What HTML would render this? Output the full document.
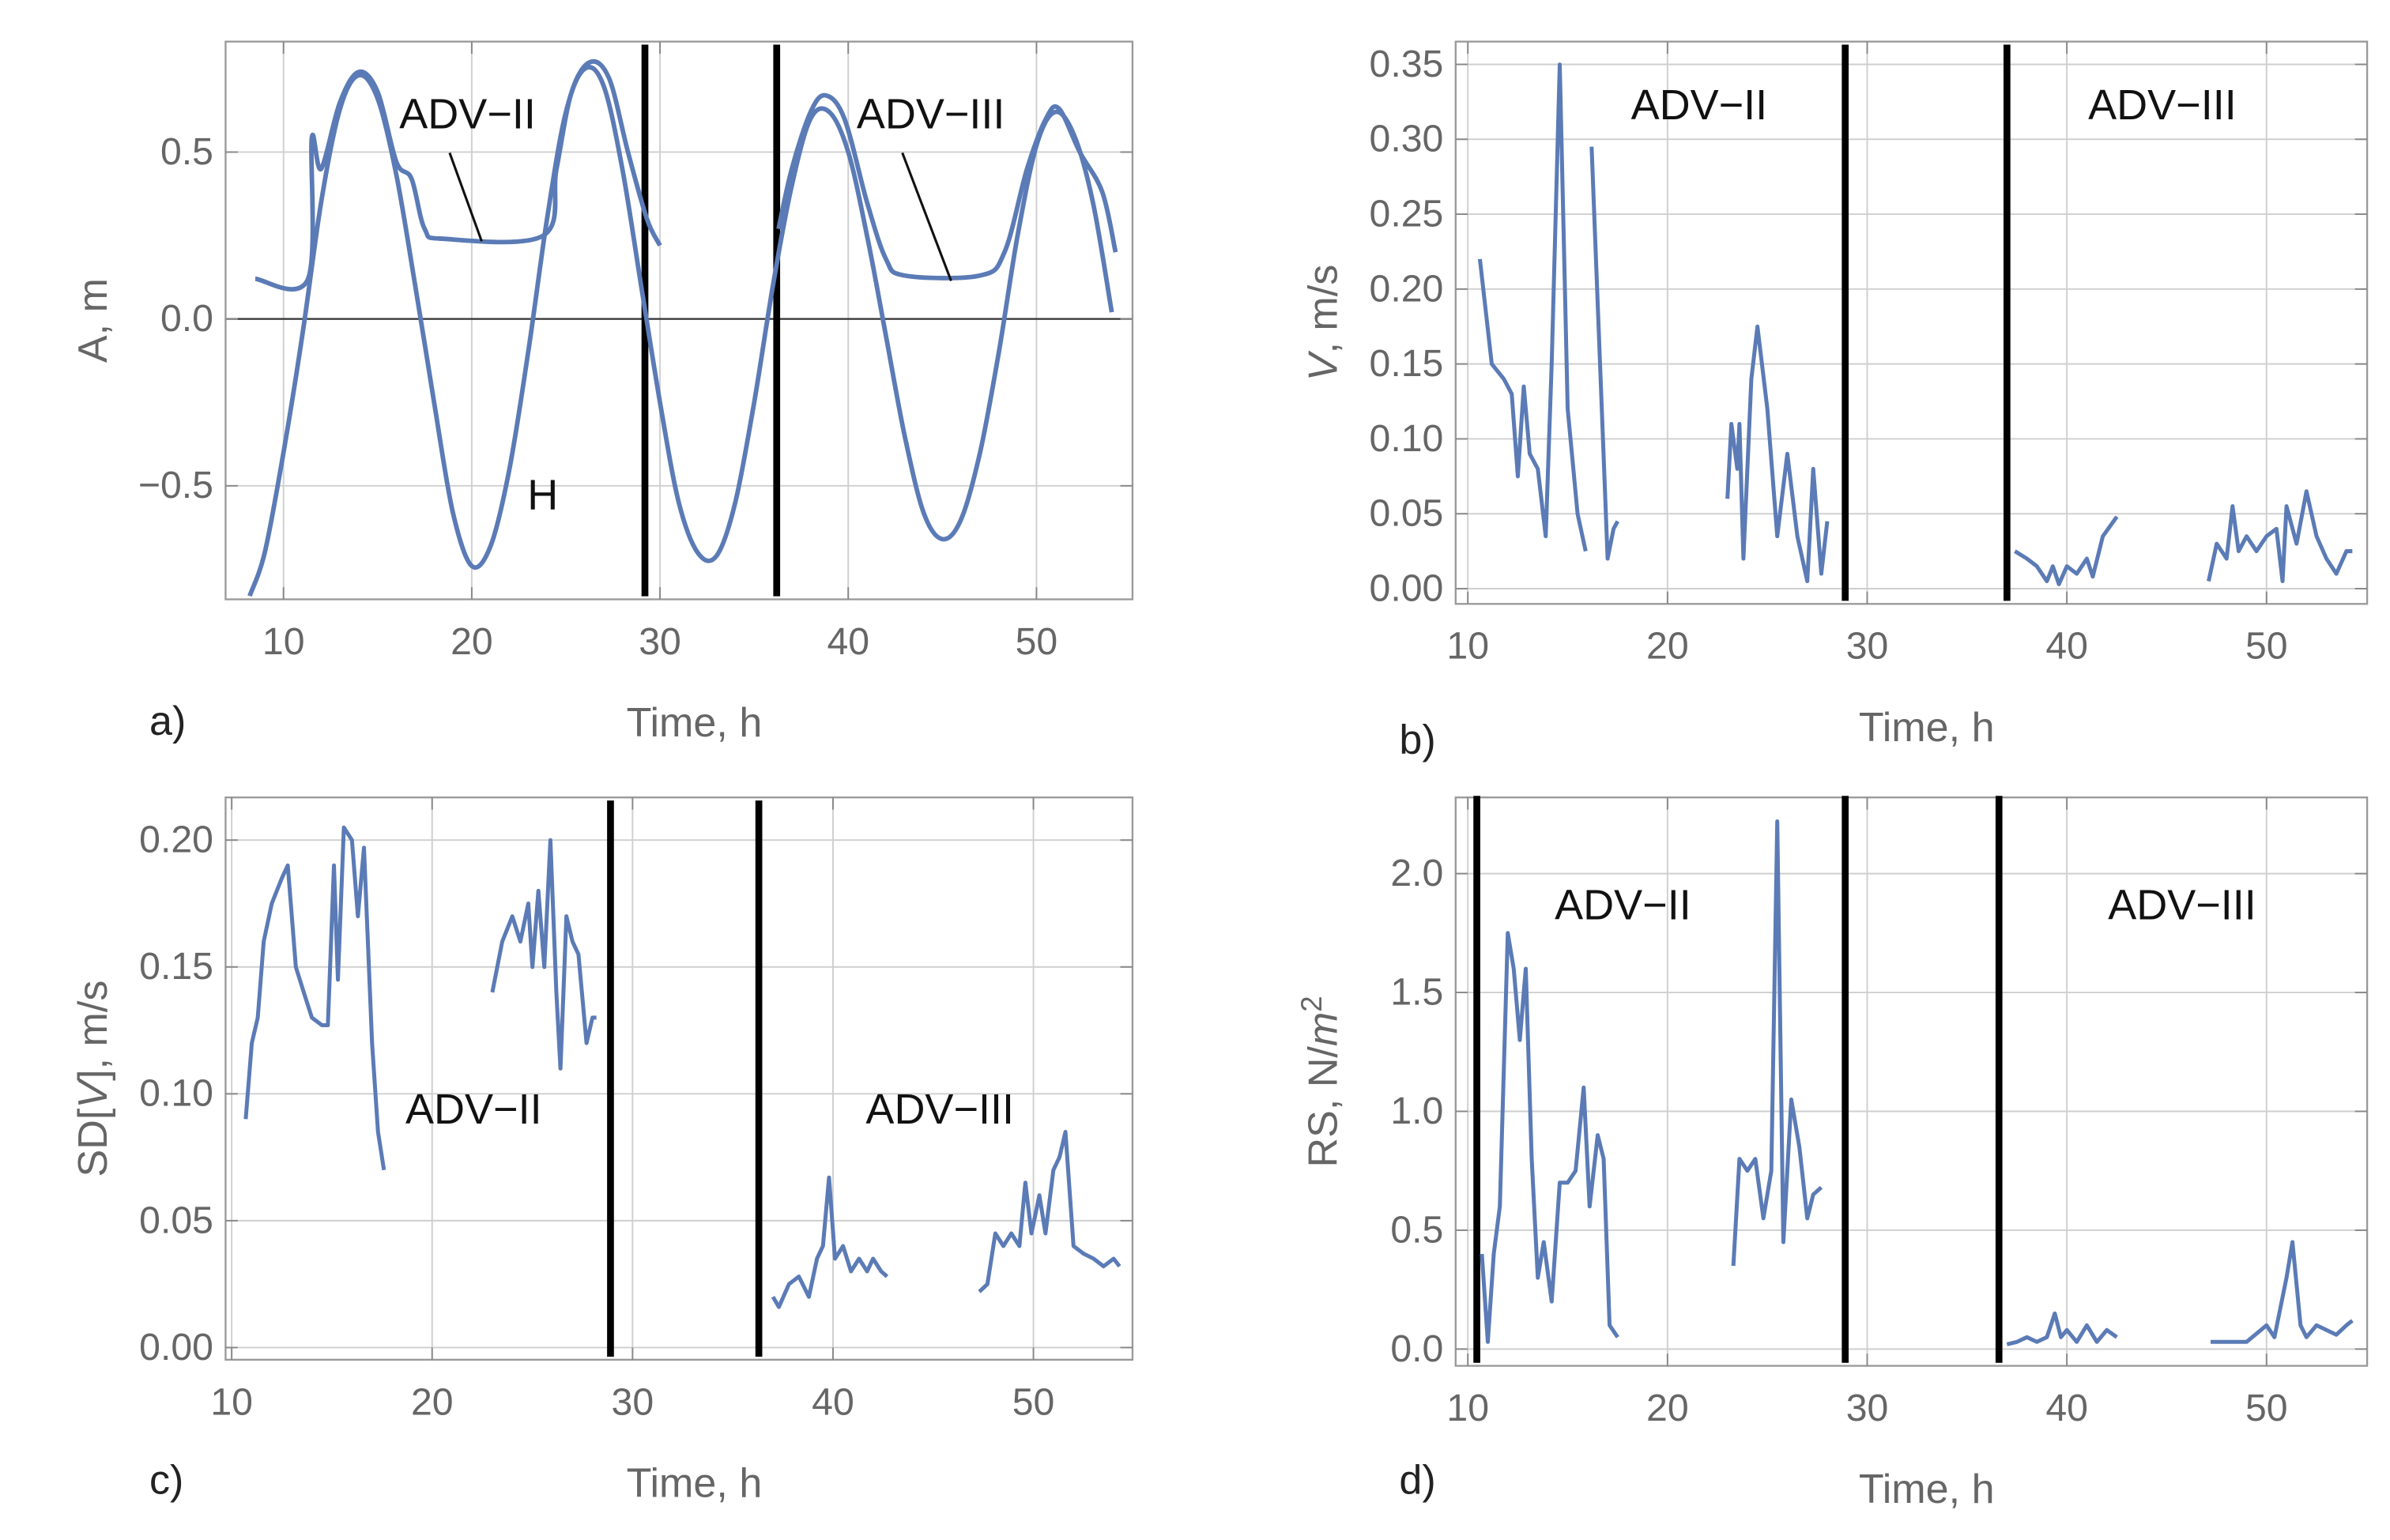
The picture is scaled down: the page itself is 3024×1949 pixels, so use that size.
<!DOCTYPE html>
<html><head><meta charset="utf-8">
<style>
html,body{margin:0;padding:0;background:#fff;}
svg{display:block;}
text{font-family:"Liberation Sans",sans-serif;}
</style></head>
<body>
<svg id="fig" width="3024" height="1949" viewBox="0 0 1568 1010" xmlns="http://www.w3.org/2000/svg"></svg>
<script>
// ---------- Panel a data ----------
const aHt=[8.2,9,10,11,12,13,14,15,16,17,18,19,20,21,22,23,24,25,26,27,28,29,30,31,32,33,34,35,36,37,38,39,40,41,42,43,44,45,46,47,48,49,50,51,52,53,54];
const aH=[-0.83,-0.7,-0.4,-0.05,0.35,0.63,0.73,0.66,0.43,0.1,-0.25,-0.58,-0.74,-0.68,-0.45,-0.1,0.3,0.62,0.75,0.7,0.45,0.1,-0.25,-0.55,-0.7,-0.71,-0.55,-0.25,0.1,0.4,0.6,0.62,0.5,0.25,-0.05,-0.35,-0.58,-0.66,-0.6,-0.4,-0.1,0.25,0.52,0.62,0.55,0.35,0.02];
const aA1t=[8.5,11.3,11.5,12,13,14,15,16,16.8,17.5,18.5,23.8,24.5,25.3,26.3,27.3,28.3,29.3,30];
const aA1=[0.12,0.12,0.54,0.45,0.65,0.74,0.68,0.47,0.42,0.27,0.24,0.25,0.45,0.68,0.77,0.72,0.5,0.3,0.22];
const aA2t=[36.3,37,38,38.8,39.8,41,42,43,47,48.3,49.5,50.5,51.2,52.3,53.5,54.2];
const aA2=[0.27,0.45,0.62,0.67,0.6,0.35,0.18,0.13,0.13,0.2,0.45,0.6,0.63,0.5,0.38,0.2];
// ---------- Panel b data ----------
const bT1=[10.6,11.2,11.8,12.2,12.5,12.8,13.1,13.5,13.9,14.2,14.6,15.0,15.5,15.9];
const bV1=[0.22,0.15,0.14,0.13,0.075,0.135,0.09,0.08,0.035,0.15,0.35,0.12,0.05,0.025];
const bT2=[16.2,17.0,17.3,17.5];
const bV2=[0.295,0.02,0.04,0.045];
const bT3=[23.0,23.2,23.5,23.6,23.8,24.2,24.5,25.0,25.5,26.0,26.5,27.0,27.3,27.7,28.0];
const bV3=[0.06,0.11,0.08,0.11,0.02,0.14,0.175,0.12,0.035,0.09,0.035,0.005,0.08,0.01,0.045];
const bT4=[37.4,38,38.5,39,39.3,39.6,40,40.5,41,41.3,41.8,42.5];
const bV4=[0.025,0.02,0.015,0.005,0.015,0.003,0.015,0.01,0.02,0.008,0.035,0.048];
const bT5=[47.1,47.5,48,48.3,48.6,49,49.5,50,50.5,50.8,51,51.5,52,52.5,53,53.5,54,54.3];
const bV5=[0.005,0.03,0.02,0.055,0.025,0.035,0.025,0.035,0.04,0.005,0.055,0.03,0.065,0.035,0.02,0.01,0.025,0.025];
// ---------- Panel c data ----------
const cT1=[10.7,11,11.3,11.6,12,12.5,12.8,13.2,13.6,14,14.5,14.8,15.1,15.3,15.6,16.0,16.3,16.6,17.0,17.3,17.6];
const cV1=[0.09,0.12,0.13,0.16,0.175,0.185,0.19,0.15,0.14,0.13,0.127,0.127,0.19,0.145,0.205,0.2,0.17,0.197,0.12,0.085,0.07];
const cT2=[23,23.5,24,24.4,24.8,25,25.3,25.6,25.9,26.2,26.4,26.7,27,27.3,27.7,28,28.2];
const cV2=[0.14,0.16,0.17,0.16,0.175,0.15,0.18,0.15,0.2,0.14,0.11,0.17,0.16,0.155,0.12,0.13,0.13];
const cT3=[37,37.3,37.8,38.3,38.8,39.2,39.5,39.8,40.1,40.5,40.9,41.3,41.7,42,42.4,42.7];
const cV3=[0.02,0.016,0.025,0.028,0.02,0.035,0.04,0.067,0.035,0.04,0.03,0.035,0.03,0.035,0.03,0.028];
const cT4=[47.3,47.7,48.1,48.5,48.9,49.3,49.6,49.9,50.3,50.6,51,51.3,51.6,52,52.5,53,53.5,54,54.3];
const cV4=[0.022,0.025,0.045,0.04,0.045,0.04,0.065,0.045,0.06,0.045,0.07,0.075,0.085,0.04,0.037,0.035,0.032,0.035,0.032];
// ---------- Panel d data ----------
const dT1=[10.7,11,11.3,11.6,12,12.3,12.6,12.9,13.2,13.5,13.8,14.2,14.6,15,15.4,15.8,16.1,16.5,16.8,17.1,17.5];
const dV1=[0.4,0.03,0.4,0.6,1.75,1.6,1.3,1.6,0.8,0.3,0.45,0.2,0.7,0.7,0.75,1.1,0.6,0.9,0.8,0.1,0.05];
const dT2=[23.3,23.6,24,24.4,24.8,25.2,25.5,25.8,26.2,26.6,27,27.3,27.7];
const dV2=[0.35,0.8,0.75,0.8,0.55,0.75,2.22,0.45,1.05,0.85,0.55,0.65,0.68];
const dT3=[37,37.5,38,38.5,39,39.4,39.7,40,40.5,41,41.5,42,42.5];
const dV3=[0.02,0.03,0.05,0.03,0.05,0.15,0.05,0.08,0.03,0.1,0.03,0.08,0.05];
const dT4=[47.2,48,49,50,50.4,51,51.3,51.7,52,52.5,53,53.5,54,54.3];
const dV4=[0.03,0.03,0.03,0.1,0.05,0.3,0.45,0.1,0.05,0.1,0.08,0.06,0.1,0.12];
// tick labels
const xTicks=[10,20,30,40,50];
const aYTicks=[-0.5,0,0.5], aYLabels=["\u22120.5","0.0","0.5"];
const bYTicks=[0,0.05,0.1,0.15,0.2,0.25,0.3,0.35], bYLabels=["0.00","0.05","0.10","0.15","0.20","0.25","0.30","0.35"];
const cYTicks=[0,0.05,0.1,0.15,0.2], cYLabels=["0.00","0.05","0.10","0.15","0.20"];
const dYTicks=[0,0.5,1,1.5,2], dYLabels=["0.0","0.5","1.0","1.5","2.0"];

const NS="http://www.w3.org/2000/svg";
const svg=document.getElementById('fig');
const COL="#5b7bb6", GRID="#cfcfcf", TXT="#666";
function mk(tag,attrs,parent){const e=document.createElementNS(NS,tag);for(const k in attrs)e.setAttribute(k,attrs[k]);(parent||svg).appendChild(e);return e;}
function smoothPath(P){
  let d='M'+P[0][0].toFixed(1)+','+P[0][1].toFixed(1);
  for(let i=0;i<P.length-1;i++){
    const p0=P[Math.max(0,i-1)],p1=P[i],p2=P[i+1],p3=P[Math.min(P.length-1,i+2)];
    const c1=[p1[0]+(p2[0]-p0[0])/6,p1[1]+(p2[1]-p0[1])/6];
    const c2=[p2[0]-(p3[0]-p1[0])/6,p2[1]-(p3[1]-p1[1])/6];
    d+=` C${c1[0].toFixed(1)},${c1[1].toFixed(1)} ${c2[0].toFixed(1)},${c2[1].toFixed(1)} ${p2[0].toFixed(1)},${p2[1].toFixed(1)}`;
  }
  return d;
}

function panel(o){
  const g=mk('g',{});
  
  
  const X=t=>o.x0+(t-10)*o.kx, Y=v=>o.y0-v*o.ky;
  o.xt.forEach(t=>{mk('line',{x1:X(t),x2:X(t),y1:o.top,y2:o.bot,stroke:GRID,'stroke-width':1},g);});
  o.yt.forEach(v=>{mk('line',{x1:o.left,x2:o.right,y1:Y(v),y2:Y(v),stroke:GRID,'stroke-width':1},g);});
  if(o.zero){mk('line',{x1:o.left,x2:o.right,y1:Y(0),y2:Y(0),stroke:'#333','stroke-width':1.2},g);}
  mk('rect',{x:o.left,y:o.top,width:o.right-o.left,height:o.bot-o.top,fill:'none',stroke:'#999','stroke-width':1.2},g);
  o.xt.forEach(t=>{
    mk('line',{x1:X(t),x2:X(t),y1:o.bot,y2:o.bot-8,stroke:'#888'},g);
    mk('line',{x1:X(t),x2:X(t),y1:o.top,y2:o.top+8,stroke:'#888'},g);
    const tx=mk('text',{x:X(t),y:o.bot+36,'text-anchor':'middle','font-size':25,fill:TXT},g);
    
    
    tx.textContent=t;
  });
  o.yt.forEach((v,i)=>{
    mk('line',{x1:o.left,x2:o.left+8,y1:Y(v),y2:Y(v),stroke:'#888'},g);
    mk('line',{x1:o.right,x2:o.right-8,y1:Y(v),y2:Y(v),stroke:'#888'},g);
    const tx=mk('text',{x:o.left-8,y:Y(v)+8,'text-anchor':'end','font-size':25,fill:TXT},g);
    
    
    tx.textContent=o.yl[i];
  });
  o.vl.forEach(t=>{const l=mk('line',{x1:X(t),x2:X(t),y1:o.vtop||o.top+2,y2:o.bot-2,stroke:'#000','stroke-width':4.5},g);
    });
  o.series.forEach(s=>{
    const P=s[0].map((t,i)=>[X(t),Y(s[1][i])]);
    const d=o.smooth?smoothPath(P):P.map((p,i)=>(i?'L':'M')+p[0].toFixed(1)+','+p[1].toFixed(1)).join(' ');
    const p=mk('path',{d:d,fill:'none',stroke:COL,'stroke-width':s[2]||2.6,'stroke-linejoin':'round'},g);
    
    
  });
  const xt=mk('text',{x:(o.left+o.right)/2+10,y:o.bot+90,'text-anchor':'middle','font-size':27,fill:TXT},g);
  
  xt.textContent='Time, h';
  const yx=o.left-78, yy=(o.top+o.bot)/2;
  const yt=mk('text',{x:yx,y:yy,'text-anchor':'middle','font-size':27,fill:TXT,transform:`rotate(-90 ${yx} ${yy})`},g);
  
  yt.innerHTML=o.ytitle;
  const pl=mk('text',{x:o.plx,y:o.ply,'font-size':27,fill:'#222'},g);
  
  pl.textContent=o.pl;
  (o.labels||[]).forEach(L=>{const t=mk('text',{x:L[0],y:L[1],'font-size':28,fill:'#111'},g);
    t.textContent=L[2];});
  (o.leaders||[]).forEach(L=>{mk('line',{x1:L[0],y1:L[1],x2:L[2],y2:L[3],stroke:'#111','stroke-width':1.6},g);});
}

panel({name:'panel-a',left:148,right:743,top:27,bot:393,x0:186,kx:12.35,y0:209,ky:219,zero:true,smooth:true,
  xt:xTicks,yt:aYTicks,yl:aYLabels,vl:[29.2,36.2],
  series:[[aHt,aH,3],[aA1t,aA1,3],[aA2t,aA2,3]],
  ytitle:'A, m',pl:'a)',plx:98,ply:482,
  labels:[[262,84,'ADV\u2212II'],[562,84,'ADV\u2212III'],[346,334,'H']],
  leaders:[[295,100,316,158],[592,100,624,184]]});
panel({name:'panel-b',left:955,right:1553,top:27,bot:396,x0:963,kx:13.1,y0:386,ky:983,
  xt:xTicks,yt:bYTicks,yl:bYLabels,vl:[28.9,37.0],
  series:[[bT1,bV1],[bT2,bV2],[bT3,bV3],[bT4,bV4],[bT5,bV5]],
  ytitle:'<tspan font-style="italic">V</tspan>, m/s',pl:'b)',plx:918,ply:494,
  labels:[[1070,78,'ADV\u2212II'],[1370,78,'ADV\u2212III']]});
panel({name:'panel-c',left:148,right:743,top:523,bot:892,x0:152,kx:13.15,y0:884,ky:1665,
  xt:xTicks,yt:cYTicks,yl:cYLabels,vl:[28.9,36.3],
  series:[[cT1,cV1],[cT2,cV2],[cT3,cV3],[cT4,cV4]],
  ytitle:'SD[<tspan font-style="italic">V</tspan>], m/s',pl:'c)',plx:98,ply:980,
  labels:[[266,737,'ADV\u2212II'],[568,737,'ADV\u2212III']]});
panel({name:'panel-d',left:955,right:1553,top:523,bot:896,x0:963,kx:13.1,y0:885,ky:156,
  xt:xTicks,yt:dYTicks,yl:dYLabels,vl:[10.45,28.9,36.6],vtop:522,
  series:[[dT1,dV1],[dT2,dV2],[dT3,dV3],[dT4,dV4]],
  ytitle:'RS, N/<tspan font-style="italic">m</tspan><tspan dy="-10" font-size="19">2</tspan>',pl:'d)',plx:918,ply:980,
  labels:[[1020,603,'ADV\u2212II'],[1383,603,'ADV\u2212III']]});
</script>
</body></html>
